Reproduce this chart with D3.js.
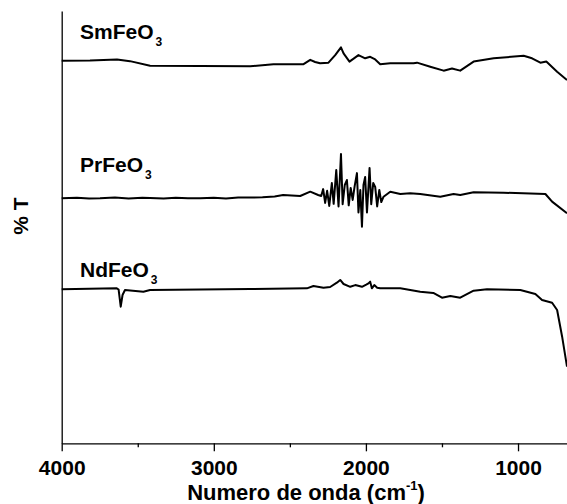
<!DOCTYPE html>
<html><head><meta charset="utf-8">
<script src="https://cdn.jsdelivr.net/npm/d3@7"></script>
<style>
html,body{margin:0;padding:0;background:#fff;}
svg{display:block;}
text{font-family:"Liberation Sans",Arial,sans-serif;font-weight:bold;fill:#000;}
</style></head>
<body><svg id="chart" width="567" height="504"></svg>
<script>
// ---- data (wavenumber cm^-1, %T arbitrary offset units) ----
const smWave = [4000,3814,3636,3551,3419,3090,2761,2608,2410,2366,2334,2301,2246,2202,2164,2147,2108,2049,2005,1972,1939,1906,1840,1687,1664,1577,1489,1434,1380,1292,1160,963,908,853,814,743,678];
const smT    = [88.5,88.55,88.8,88.4,87.35,87.3,87.2,87.7,87.7,88.7,88.2,87.9,88.05,89.8,91.6,90.2,88.3,89.8,89.06,89.4,88.8,87.7,87.9,87.9,88.05,87.1,86.2,86.7,86.2,88.3,89.06,89.66,89.06,88.04,88.3,85.96,84.04];

const prWave = [4000,3900,3820,3748,3650,3560,3470,3419,3330,3250,3170,3090,3000,2920,2840,2761,2680,2600,2544,2432,2366,2314,2294,2281,2268,2255,2241,2224,2212,2195,2180,2164,2153,2139,2125,2113,2100,2087,2074,2059,2049,2037,2026,2016,2005,1993,1976,1965,1952,1939,1926,1912,1899,1884,1840,1774,1709,1643,1511,1424,1380,1292,1095,820,776,678];
const prT    = [56.7,56.8,56.65,56.7,56.85,56.65,56.8,56.75,56.65,56.8,56.7,56.7,56.8,56.65,56.85,56.86,56.9,57.1,57.44,57.2,58.2,57.44,57.2,58.8,55.6,58.4,54.9,60.2,55.4,63.2,54.8,66.9,55.3,59.75,60.9,55.05,59.06,56.3,59.5,62.5,53.4,58.6,50.1,59.75,61.6,53.4,63.7,55.3,60.2,59.3,54.8,58.6,55.8,57.04,58.2,57.67,57.83,57.67,57.04,57.67,57.44,58.06,57.97,57.67,55.9,53.2];

const ndWave = [4000,3638,3626,3612,3600,3584,3463,3419,2761,2388,2345,2279,2235,2191,2169,2147,2103,2070,2026,1998,1983,1972,1961,1945,1926,1906,1774,1643,1557,1500,1445,1380,1292,1204,985,886,842,776,743,710,678];
const ndT    = [35.62,35.85,35.58,31.6,34.3,35.46,35.07,35.46,35.7,35.85,36.39,36.0,36.16,37.15,37.78,36.85,36.2,36.6,36.2,36.7,37.0,37.4,35.85,36.6,36.0,35.85,35.85,35.07,34.77,33.68,34.07,33.68,35.3,35.62,35.46,34.54,33.15,32.52,30.84,24.66,17.72];

const seriesNames = ["SmFeO", "PrFeO", "NdFeO"];
const labelAnchorT = [93.45, 62.83, 38.54]; // label baseline in %T units
const xTicks = [4000, 3000, 2000, 1000];
const xMinorTicks = [3500, 2500, 1500];
const xTitle = "Numero de onda (cm";
const yTitle = "% T";

// ---- layout ----
const svg = d3.select("#chart");
const mLeft = 61.7, mRight = 567, mTop = 11, mBottom = 443.3;
const x = d3.scaleLinear().domain([4000, 678]).range([mLeft, mRight]);
const y = d3.scaleLinear().domain([0, 100]).range([mBottom, mTop]);

const line = d3.line().x(d => x(d[0])).y(d => y(d[1]));
const series = [
  d3.zip(smWave, smT),
  d3.zip(prWave, prT),
  d3.zip(ndWave, ndT)
];
series.forEach(s => {
  svg.append("path").datum(s).attr("d", line)
    .attr("fill", "none").attr("stroke", "#000").attr("stroke-width", 2)
    .attr("stroke-linejoin", "round");
});

// axes
const gx = svg.append("g").attr("transform", `translate(0,${mBottom})`)
  .call(d3.axisBottom(x).tickValues(xTicks).tickSize(8).tickSizeOuter(0).tickPadding(6).tickFormat(d3.format("d")));
gx.select(".domain").attr("stroke-width", 1.3);
gx.selectAll(".tick line").attr("stroke-width", 1.3);
gx.selectAll(".tick text").attr("font-size", 21).attr("font-family", "Liberation Sans, Arial, sans-serif")
  .attr("font-weight", "bold").attr("dy", null).attr("y", 31.7);
const gxm = svg.append("g").attr("transform", `translate(0,${mBottom})`)
  .call(d3.axisBottom(x).tickValues(xMinorTicks).tickSize(4).tickFormat(""));
gxm.select(".domain").remove();
gxm.selectAll(".tick line").attr("stroke-width", 1.3);

const gy = svg.append("g").attr("transform", `translate(${mLeft},0)`)
  .call(d3.axisLeft(y).tickValues([]).tickSizeOuter(0));
gy.select(".domain").attr("stroke-width", 1.3);

// series labels
seriesNames.forEach((n, i) => {
  const t = svg.append("text").attr("x", 80).attr("y", y(labelAnchorT[i])).attr("font-size", 21);
  t.append("tspan").text(n);
  t.append("tspan").attr("font-size", 12).attr("dy", 7).attr("dx", 2).text("3");
});

// axis titles
const tt = svg.append("text").attr("x", 306).attr("y", 500).attr("text-anchor", "middle").attr("font-size", 22);
tt.append("tspan").text(xTitle);
tt.append("tspan").attr("font-size", 13).attr("dy", -10).text("-1");
tt.append("tspan").attr("dy", 10).text(")");

svg.append("text").attr("transform", "translate(28,216) rotate(-90)")
  .attr("text-anchor", "middle").attr("font-size", 21).text(yTitle);
</script>
</body></html>
